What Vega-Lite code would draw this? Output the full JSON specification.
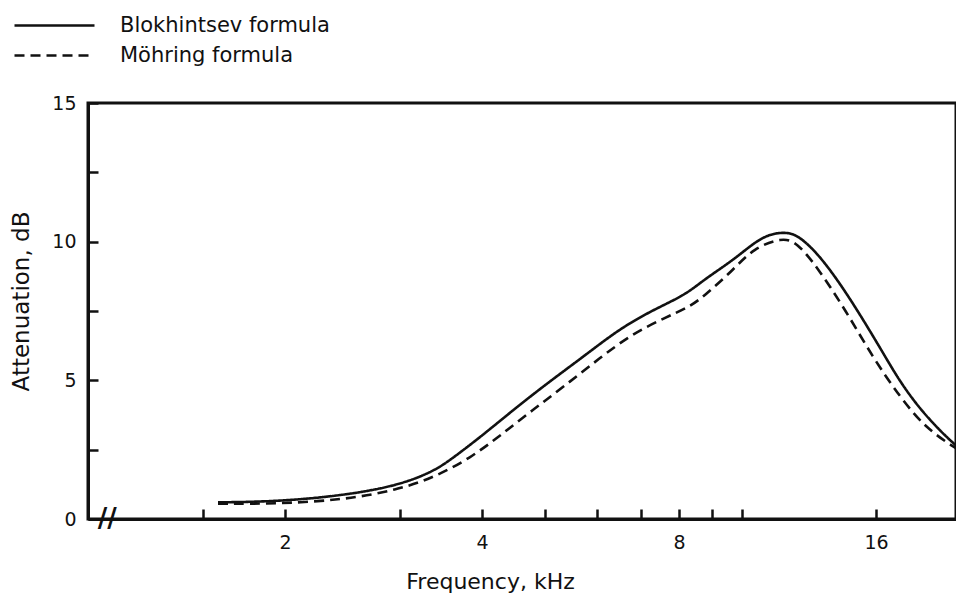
{
  "$schema": "https://vega.github.io/schema/vega-lite/v6.json",
  "width": 868,
  "height": 416,
  "autosize": "none",
  "padding": {"left": 88, "top": 103, "right": 0, "bottom": 77},
  "background": "white",
  "config": {
    "view": {"stroke": "#111", "strokeWidth": 3},
    "font": "DejaVu Sans"
  },
  "layer": [
    {
      "data": {
        "values": [
          {"series": "Blokhintsev formula", "f": 1.58, "a": 0.6},
          {"series": "Blokhintsev formula", "f": 1.95, "a": 0.63},
          {"series": "Blokhintsev formula", "f": 2.46, "a": 0.85},
          {"series": "Blokhintsev formula", "f": 2.97, "a": 1.2},
          {"series": "Blokhintsev formula", "f": 3.38, "a": 1.72},
          {"series": "Blokhintsev formula", "f": 3.62, "a": 2.22},
          {"series": "Blokhintsev formula", "f": 4.0, "a": 3.0},
          {"series": "Blokhintsev formula", "f": 4.5, "a": 4.0},
          {"series": "Blokhintsev formula", "f": 5.07, "a": 4.95},
          {"series": "Blokhintsev formula", "f": 5.71, "a": 5.85},
          {"series": "Blokhintsev formula", "f": 6.25, "a": 6.56},
          {"series": "Blokhintsev formula", "f": 6.76, "a": 7.1},
          {"series": "Blokhintsev formula", "f": 7.4, "a": 7.6},
          {"series": "Blokhintsev formula", "f": 8.2, "a": 8.1},
          {"series": "Blokhintsev formula", "f": 8.7, "a": 8.6},
          {"series": "Blokhintsev formula", "f": 9.7, "a": 9.35},
          {"series": "Blokhintsev formula", "f": 10.4, "a": 9.95},
          {"series": "Blokhintsev formula", "f": 11.0, "a": 10.28},
          {"series": "Blokhintsev formula", "f": 11.7, "a": 10.35},
          {"series": "Blokhintsev formula", "f": 12.2, "a": 10.2},
          {"series": "Blokhintsev formula", "f": 13.0, "a": 9.6},
          {"series": "Blokhintsev formula", "f": 14.0, "a": 8.6},
          {"series": "Blokhintsev formula", "f": 15.1, "a": 7.4},
          {"series": "Blokhintsev formula", "f": 16.3, "a": 6.1},
          {"series": "Blokhintsev formula", "f": 17.4, "a": 4.95},
          {"series": "Blokhintsev formula", "f": 18.7, "a": 3.95},
          {"series": "Blokhintsev formula", "f": 20.1, "a": 3.15},
          {"series": "Blokhintsev formula", "f": 21.2, "a": 2.65},
          {"series": "Möhring formula", "f": 1.58, "a": 0.55},
          {"series": "Möhring formula", "f": 1.95, "a": 0.55},
          {"series": "Möhring formula", "f": 2.46, "a": 0.69},
          {"series": "Möhring formula", "f": 2.97, "a": 1.05},
          {"series": "Möhring formula", "f": 3.38, "a": 1.5},
          {"series": "Möhring formula", "f": 3.84, "a": 2.2},
          {"series": "Möhring formula", "f": 4.26, "a": 3.0},
          {"series": "Möhring formula", "f": 4.78, "a": 3.93},
          {"series": "Möhring formula", "f": 5.35, "a": 4.8},
          {"series": "Möhring formula", "f": 6.05, "a": 5.8},
          {"series": "Möhring formula", "f": 6.76, "a": 6.65},
          {"series": "Möhring formula", "f": 7.6, "a": 7.25},
          {"series": "Möhring formula", "f": 8.3, "a": 7.65},
          {"series": "Möhring formula", "f": 8.7, "a": 8.0},
          {"series": "Möhring formula", "f": 9.7, "a": 9.0},
          {"series": "Möhring formula", "f": 10.4, "a": 9.77},
          {"series": "Möhring formula", "f": 11.5, "a": 10.15},
          {"series": "Möhring formula", "f": 12.1, "a": 9.98},
          {"series": "Möhring formula", "f": 13.0, "a": 9.1},
          {"series": "Möhring formula", "f": 14.4, "a": 7.5},
          {"series": "Möhring formula", "f": 15.8, "a": 5.85},
          {"series": "Möhring formula", "f": 17.4, "a": 4.4},
          {"series": "Möhring formula", "f": 19.1, "a": 3.25},
          {"series": "Möhring formula", "f": 21.2, "a": 2.55}
        ]
      },
      "mark": {"type": "line", "interpolate": "basis", "strokeWidth": 2.6, "color": "#111"},
      "encoding": {
        "x": {
          "field": "f",
          "type": "quantitative",
          "scale": {"type": "log", "base": 2, "domain": [1, 21.2], "nice": false},
          "axis": {
            "values": [1.5, 2, 3, 4, 5, 6, 7, 8, 9, 10, 16],
            "labelExpr": "indexof([2,4,8,16], datum.value) >= 0 ? datum.label : ''",
            "title": "Frequency, kHz",
            "titleFontSize": 22,
            "titleFontWeight": "normal",
            "titleColor": "#111",
            "titleX": 402,
            "titleY": 69,
            "titleBaseline": "alphabetic",
            "titleAlign": "center",
            "labelFontSize": 19,
            "labelColor": "#111",
            "labelPadding": 24,
            "labelFlush": false,
            "labelOverlap": false,
            "tickSize": -10,
            "tickWidth": 2.5,
            "tickColor": "#111",
            "domainWidth": 3,
            "domainColor": "#111",
            "grid": false
          }
        },
        "y": {
          "field": "a",
          "type": "quantitative",
          "scale": {"domain": [0, 15], "nice": false},
          "axis": {
            "values": [0, 2.5, 5, 7.5, 10, 12.5, 15],
            "labelExpr": "datum.value % 5 === 0 ? datum.label : ''",
            "title": "Attenuation, dB",
            "titleFontSize": 23,
            "titleFontWeight": "normal",
            "titleColor": "#111",
            "titleX": -60,
            "titleY": 198,
            "titleAngle": -90,
            "titleBaseline": "alphabetic",
            "titleAlign": "center",
            "labelFontSize": 19,
            "labelColor": "#111",
            "labelPadding": 22,
            "labelFlush": false,
            "labelOverlap": false,
            "tickSize": -10,
            "tickWidth": 2.5,
            "tickColor": "#111",
            "domainWidth": 3,
            "domainColor": "#111",
            "grid": false
          }
        },
        "strokeDash": {
          "field": "series",
          "type": "nominal",
          "scale": {"domain": ["Blokhintsev formula", "Möhring formula"], "range": [[1, 0], [10, 6]]},
          "legend": {
            "orient": "none",
            "legendX": -44,
            "legendY": -88,
            "title": null,
            "symbolType": "M-5,0H5",
            "symbolSize": 256,
            "symbolStrokeWidth": 2.6,
            "symbolStrokeColor": "#111",
            "labelFontSize": 21,
            "labelColor": "#111",
            "labelLimit": 0,
            "labelOffset": 55,
            "rowPadding": 8
          }
        }
      }
    },
    {
      "data": {"values": [{"f": 1.07, "a": 0, "t": "//"}]},
      "mark": {"type": "text", "fontSize": 26, "fontWeight": "bold", "color": "#111", "clip": false},
      "encoding": {
        "x": {"field": "f", "type": "quantitative"},
        "y": {"field": "a", "type": "quantitative"},
        "text": {"field": "t"}
      }
    }
  ]
}
